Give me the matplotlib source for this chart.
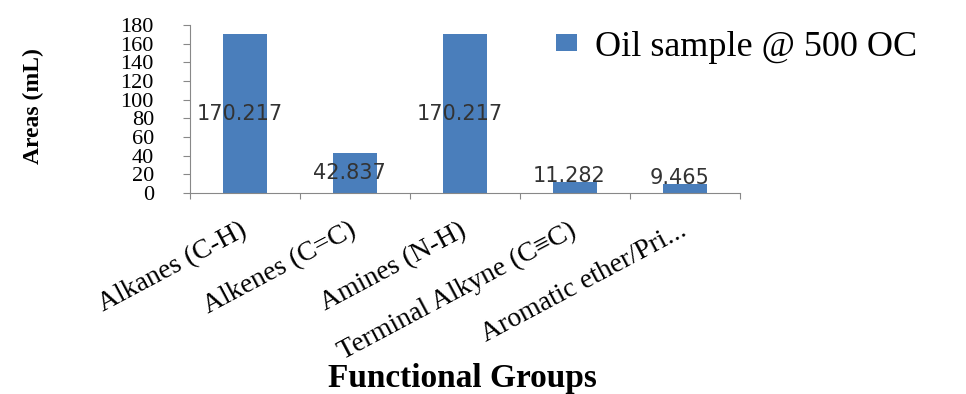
import matplotlib.pyplot as plt
import numpy as np

groups = ['Alkanes (C-H)', 'Alkenes (C=C)', 'Amines (N-H)',
          'Terminal Alkyne (C\u2261C)', 'Aromatic ether/Pri...']
areas = [170.217, 42.837, 170.217, 11.282, 9.465]
series_name = 'Oil sample @ 500 OC'
yticks = list(range(0, 181, 20))

bar_color = '#4a7ebb'
serif = ['Liberation Serif', 'DejaVu Serif']

fig = plt.figure(figsize=(9.66, 3.94), dpi=100)
ax = fig.add_axes([190 / 966, 1 - 193 / 394, 550 / 966, 168 / 394])

x = np.arange(len(groups))
bars = ax.bar(x, areas, width=0.4, color=bar_color, label=series_name, zorder=2)

# value labels: centred in tall bars, just above the short ones
for xi, v in zip(x, areas):
    ly = v / 2 if v / 2 > 10 else v + 7
    ax.text(xi - 0.05, ly, f'{v:g}', ha='center', va='center', fontsize=15,
            color='#333333', family='DejaVu Sans', zorder=3)

ax.set_xlim(-0.5, len(groups) - 0.5)
ax.set_ylim(0, 180)
ax.set_yticks(yticks)
ax.set_yticklabels([str(t) for t in yticks], family=serif, fontsize=16)
ax.tick_params(axis='y', length=5, pad=21, color='#888888', width=0.8)

# category boundaries carry the tick marks, labels sit at the centres
ax.set_xticks(np.arange(len(groups) + 1) - 0.5)
ax.set_xticklabels([])
ax.set_xticks(x, minor=True)
ax.set_xticklabels(groups, minor=True, rotation=28, ha='right',
                   va='center', rotation_mode='anchor', family=serif,
                   fontsize=20)
ax.tick_params(axis='x', which='major', length=4, color='#888888', width=0.8)
ax.tick_params(axis='x', which='minor', length=0, pad=26)

for side in ['top', 'right']:
    ax.spines[side].set_visible(False)
for side in ['left', 'bottom']:
    ax.spines[side].set_color('#888888')
    ax.spines[side].set_linewidth(0.8)

ax.set_ylabel('Areas (mL)', family=serif, fontsize=17, fontweight='bold')
ax.yaxis.set_label_coords(-0.265, 0.52)

fig.text(462 / 966, 1 - 379 / 394, 'Functional Groups', ha='center',
         va='center', family=serif, fontsize=24, fontweight='bold')

fig.legend(loc='center left', bbox_to_anchor=(523 / 966, 1 - 47 / 394),
           frameon=False, prop={'family': serif, 'size': 26},
           handlelength=0.6, handleheight=0.35, handletextpad=0.5)

fig.savefig('out.png', dpi=100)
